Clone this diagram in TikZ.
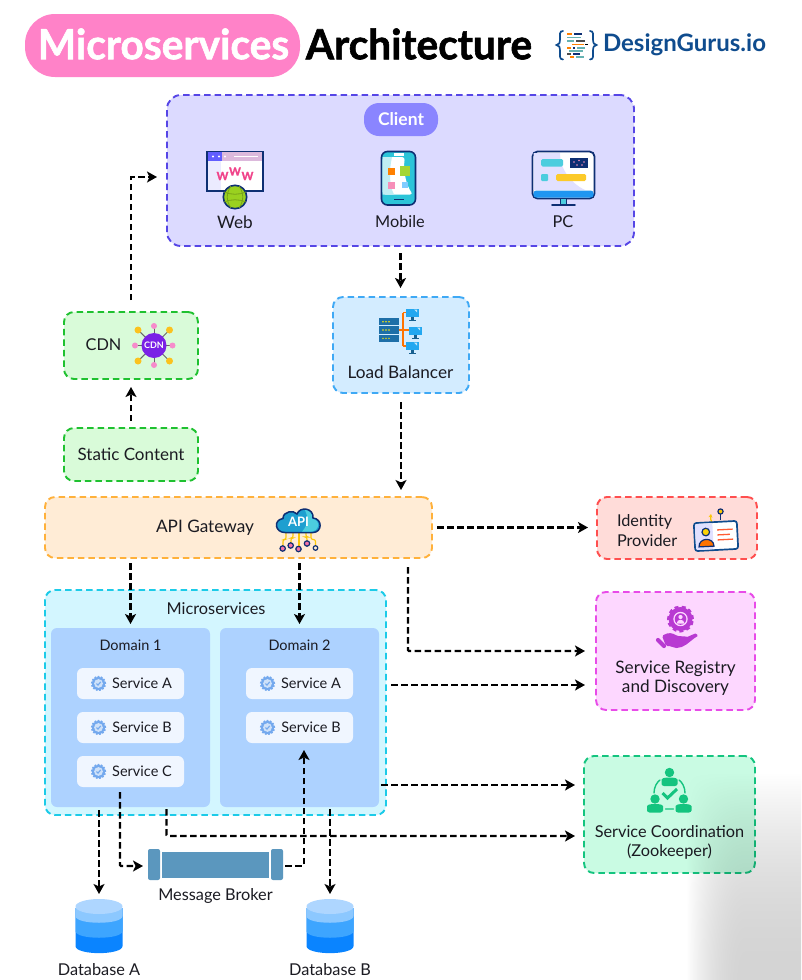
\documentclass[tikz,border=0pt]{standalone}
\usepackage{fontspec}
\setmainfont{Lato}
\newfontfamily\titlef[FakeStretch=0.98,BoldFeatures={FakeBold=1.4}]{Lato}
\usetikzlibrary{arrows.meta,calc,shapes.geometric,shadings}
\pgfdeclarefunctionalshading{cornershade}{\pgfpoint{-25bp}{-25bp}}{\pgfpoint{25bp}{25bp}}{}{
 25 add 50 div 1 exch sub dup 2 exch sub mul
 exch 25 add 50 div 1.95 mul dup 1 gt {pop 1} if dup 2 exch sub mul
 mul 0.17 mul 1 exch sub dup dup
}
\definecolor{ink}{HTML}{1B1B22}
\definecolor{navy}{HTML}{0E2F73}
\definecolor{gearb}{HTML}{74A9EE}
\definecolor{brokerc}{HTML}{5B97BE}
\definecolor{pinkp}{HTML}{FF82C8}
\definecolor{logob}{HTML}{0F4C8E}
\definecolor{dba}{HTML}{AED6FF}
\definecolor{dbb}{HTML}{8CC8FF}
\definecolor{dbc}{HTML}{3DA5FF}
\definecolor{dbd}{HTML}{0A84FF}
\definecolor{zooc}{HTML}{14C47F}
\definecolor{regc}{HTML}{B83AD2}
\definecolor{clientb}{HTML}{5646E6}
\definecolor{clientf}{HTML}{DCDAFF}
\definecolor{clientp}{HTML}{8A85FF}
\definecolor{greenb}{HTML}{1FC130}
\definecolor{greenf}{HTML}{D9FBD9}
\definecolor{lbb}{HTML}{3FA9F5}
\definecolor{lbf}{HTML}{D3ECFF}
\definecolor{apib}{HTML}{FFB13B}
\definecolor{apif}{HTML}{FFECD6}
\definecolor{idb}{HTML}{FF4F4F}
\definecolor{idf}{HTML}{FFDCD9}
\definecolor{regb}{HTML}{E84BE8}
\definecolor{regf}{HTML}{FDD7FF}
\definecolor{zoob}{HTML}{14C47F}
\definecolor{zoof}{HTML}{C9FBE3}
\definecolor{micb}{HTML}{1CCBE8}
\definecolor{micf}{HTML}{D3F6FF}
\definecolor{domf}{HTML}{ADD2FF}
\definecolor{svcf}{HTML}{F0F6FF}
\definecolor{webg}{HTML}{9AD11F}
\definecolor{wpink}{HTML}{F0448A}
\definecolor{cyanp}{HTML}{2CC4D8}
\definecolor{cdnp}{HTML}{7A22E6}
\definecolor{monc}{HTML}{22A7F0}
\definecolor{srvc}{HTML}{1E6FA8}
\definecolor{standc}{HTML}{17608F}
\definecolor{cloudc}{HTML}{1E9FD0}
\tikzset{
 x=1pt,y=-1pt,
 panel/.style={draw,line width=1.9pt,dash pattern=on 6.5pt off 4pt,rounded corners=10pt,inner sep=0pt,outer sep=0pt,text=ink,font=\fontsize{17}{20}\selectfont,align=center},
 dom/.style={fill=domf,rounded corners=6pt,inner sep=0pt,outer sep=0pt},
 svc/.style={fill=svcf,rounded corners=6pt,inner sep=0pt,outer sep=0pt,minimum width=107pt,minimum height=31pt},
 lab/.style={text=ink,font=\fontsize{16.3}{19.5}\selectfont,inner sep=0pt,outer sep=0pt,align=center},
 labb/.style={lab,font=\fontsize{17.2}{19.5}\selectfont},
 sml/.style={text=ink,font=\fontsize{14.5}{18}\selectfont,inner sep=0pt,outer sep=0pt},
 flow/.style={draw=black,line width=2.2pt,dash pattern=on 6.5pt off 3.5pt,-{Stealth[length=10pt,width=11pt,inset=2.5pt]}},
 hold/.style={inner sep=0pt,outer sep=0pt},
 wtext/.style={text=wpink,font=\titlef\bfseries\fontsize{11.5}{12}\selectfont,inner sep=0pt}
}
\newcommand{\gearicon}[2]{%
 \begin{scope}[shift={(#1,#2)}]
 \draw[gearb,line width=1.8pt,dash pattern=on 1.7pt off 1.5pt] (0,0) circle[radius=6.7pt];
 \fill[gearb] (0,0) circle[radius=6.6pt];
 \fill[white!65!gearb] (0,0) circle[radius=4.4pt];
 \draw[gearb,line width=1.1pt] (-2,0)--(-.5,1.6)--(2.2,-1.6);
 \end{scope}}
\newcommand{\dbicon}[1]{%
 \begin{scope}[shift={(#1,0)}]
 \fill[dbd] (-23.5,908) -- (-23.5,946) .. controls (-23.5,955.5) and (23.5,955.5) .. (23.5,946) -- (23.5,908) -- cycle;
 \fill[dbc] (-23.5,908) -- (-23.5,931) .. controls (-23.5,940) and (23.5,940) .. (23.5,931) -- (23.5,908) -- cycle;
 \fill[dbb] (-23.5,908) -- (-23.5,916) .. controls (-23.5,925) and (23.5,925) .. (23.5,916) -- (23.5,908) -- cycle;
 \fill[dba] (0,906.5) circle[x radius=23.5pt,y radius=7.5pt];
 \end{scope}}
\newcommand{\personicon}[3]{%
 \begin{scope}[shift={(#1,#2)}]
 \fill[zooc] (0,-6.5) circle[radius=4.7pt];
 \fill[zooc,rounded corners=2.5pt] (-#3,7) -- (-#3,3) .. controls (-#3,-.5) and (-5,-1.5) .. (0,-1.5) .. controls (5,-1.5) and (#3,-.5) .. (#3,3) -- (#3,7) -- cycle;
 \end{scope}}
\newcommand{\monicon}[2]{%
 \begin{scope}[shift={(#1,#2)}]
 \fill[monc] (0,0) rectangle (13,8);
 \fill[white!70!monc] (8,1)--(11,1)--(11,4)--cycle;
 \fill[standc] (5.3,8) rectangle (7.7,11);
 \fill[standc] (3,11) rectangle (10,12.3);
 \end{scope}}
\begin{document}
\begin{tikzpicture}
\useasboundingbox (0,0) rectangle (801,980);
\fill[white] (0,0) rectangle (801,980);

% ---------- title
\node[fill=pinkp,rounded corners=30pt,minimum width=275pt,minimum height=63pt,inner sep=0pt,outer sep=0pt] (pill) at (162.5,45.5) {};
\node[text=white,font=\titlef\bfseries\fontsize{41.5}{44}\selectfont,inner sep=0pt] (ttla) at (163.5,44) {Microservices};
\node[text=black,font=\titlef\bfseries\fontsize{41.5}{44}\selectfont,inner sep=0pt] (ttlb) at (419,44) {Architecture};
\node[text=logob,font=\bfseries\fontsize{24}{28}\selectfont,inner sep=0pt] (logo) at (684.5,45) {DesignGurus.io};
\draw[logob,line width=1.7pt,line cap=round] (563,31) .. controls (559,31) and (560,35) .. (560,39) .. controls (560,43) and (559,45) .. (556.5,45) .. controls (559,45) and (560,47) .. (560,51) .. controls (560,55) and (559,59.5) .. (563,59.5);
\draw[logob,line width=1.7pt,line cap=round] (590,31) .. controls (594,31) and (593,35) .. (593,39) .. controls (593,43) and (594,45) .. (596.5,45) .. controls (594,45) and (593,47) .. (593,51) .. controls (593,55) and (594,59.5) .. (590,59.5);
\foreach \xa/\xb/\yy/\cc in {567/572/34/orange,574/582/34/navy,567/581/37.5/teal!60,567/574/41/teal!60,576/585/41/black!70,572/584/44.5/orange,585/588/44.5/black,567/571/48/orange,573/575/48/navy,577/585/48/teal!60,569/583/51/teal!60,567/571/54/black!70,573/580/54/navy,570/574/57/orange,576/584/57/teal!60}
 \draw[\cc,line width=1.2pt] (\xa,\yy)--(\xb,\yy);

% ---------- panels
\node[panel,draw=clientb,fill=clientf,minimum width=467pt,minimum height=151pt,rounded corners=14pt] (client) at (400.5,170.5) {};
\node[fill=clientp,text=white,rounded corners=15pt,minimum width=74pt,minimum height=33pt,inner sep=0pt,font=\bfseries\fontsize{17.5}{20}\selectfont] (clientlab) at (401,119.5) {Client};
\node[panel,draw=greenb,fill=greenf,minimum width=134pt,minimum height=67pt] (cdn) at (131,345.5) {};
\node[panel,draw=greenb,fill=greenf,minimum width=134pt,minimum height=53pt] (static) at (131,454.5) {\raisebox{1pt}{Static Content}};
\node[panel,draw=lbb,fill=lbf,minimum width=136pt,minimum height=96pt] (lb) at (401,345) {};
\node[panel,draw=apib,fill=apif,minimum width=387pt,minimum height=61pt] (api) at (238.5,527.5) {};
\node[panel,draw=idb,fill=idf,minimum width=160pt,minimum height=62pt] (idp) at (677,528) {};
\node[panel,draw=regb,fill=regf,minimum width=159pt,minimum height=118pt] (reg) at (675.5,651) {};
\node[panel,draw=zoob,fill=zoof,minimum width=171pt,minimum height=117pt] (coord) at (669.5,814.5) {};
\node[panel,draw=micb,fill=micf,minimum width=341pt,minimum height=225pt] (micro) at (215.5,702.5) {};
\node[dom,minimum width=159pt,minimum height=179pt] (dom1) at (130.5,717.5) {};
\node[dom,minimum width=159pt,minimum height=179pt] (dom2) at (299.5,717.5) {};
\node[svc] (s1a) at (130.5,683.5) {};
\node[svc] (s1b) at (130.5,727.5) {};
\node[svc] (s1c) at (130.5,771.5) {};
\node[svc] (s2a) at (299.5,683.5) {};
\node[svc] (s2b) at (299.5,727.5) {};

% ---------- text labels
\node[labb] (lweb) at (235,222) {Web};
\node[lab] (lmob) at (400,222) {Mobile};
\node[lab] (lpc) at (563,222) {PC};
\node[lab] (lcdn) at (103.5,345) {CDN};
\node[labb] (llb) at (400.5,372.5) {Load Balancer};
\node[labb] (lapi) at (205,527.5) {API Gateway};
\node[lab,align=left,anchor=west] (lidp) at (617,530.5) {Identity\\Provider};
\node[labb] (lreg) at (675.5,678) {Service Registry\\and Discovery};
\node[lab] (lzoo) at (669.5,842.5) {Service Coordination\\(Zookeeper)};
\node[lab] (lmic) at (216,608.5) {Microservices};
\node[sml] (ld1) at (130.5,645) {Domain 1};
\node[sml] (ld2) at (299.5,645) {Domain 2};
\node[sml] (t1a) at (142,683.3) {Service A};
\node[sml] (t1b) at (142,727.3) {Service B};
\node[sml] (t1c) at (142,771.3) {Service C};
\node[sml] (t2a) at (311,683.3) {Service A};
\node[sml] (t2b) at (311,727.3) {Service B};
\gearicon{98.5}{683.5}
\gearicon{98.5}{727.5}
\gearicon{98.5}{771.5}
\gearicon{267.5}{683.5}
\gearicon{267.5}{727.5}

% ---------- web icon
\draw[navy,line width=1.5pt,fill=white] (207,151.5) rectangle (263,191);
\fill[clientf!70!blue!20!white] (207.8,161) rectangle (221,190.2);
\fill[white!50!violet!55!white] (207.8,152.3) rectangle (262.2,161);
\fill[clientp!70!blue] (207.8,152.3) rectangle (222,161);
\fill[white] (213,156.5) circle[radius=1.1pt] (219,156.5) circle[radius=1.1pt] (225,156.5) circle[radius=1.1pt];
\fill[white] (234,155.6) rectangle (258,157.4);
\node[wtext] (w1) at (222.5,176) {W};
\node[wtext] (w2) at (235,171.5) {W};
\node[wtext] (w3) at (247.5,176) {W};
\draw[navy,line width=1.6pt,fill=webg] (235,197) circle[radius=11.7pt];
\draw[webg!78!black,line width=.8pt] (231,186) .. controls (226,193) and (226,201) .. (231,208) (239,186) .. controls (244,193) and (244,201) .. (239,208) (224,192) .. controls (231,195) and (239,195) .. (246,192) (224,202) .. controls (231,199) and (239,199) .. (246,202);

% ---------- mobile icon
\draw[navy,line width=1.6pt,rounded corners=6pt,fill=cyanp] (381.5,151.5) rectangle (415.5,205);
\fill[white,rounded corners=3pt] (382.5,157) -- (405,157) .. controls (403,170) and (406,185) .. (413,194.5) -- (382.5,194.5) -- cycle;
\fill[cyanp!30!white] (382.5,157) -- (392,157) .. controls (389,170) and (389,185) .. (394,194.5) -- (382.5,194.5) -- cycle;
\fill[white] (394,153.2) rectangle (404,155.7);
\fill[navy] (394,198.6) rectangle (404,200.2);
\fill[orange] (388,168) rectangle (395,175);
\fill[webg!90!white] (400,166) rectangle (410,175.5);
\fill[wpink!60!white] (388,182) rectangle (395,189);
\fill[blue!40!cyan!50!white] (402,182) rectangle (408,188);

% ---------- pc icon
\draw[navy,line width=1.8pt,rounded corners=5pt,fill=white] (532.5,151.5) rectangle (594.5,198.5);
\fill[clientf!85!white] (533.5,153) -- (560,153) .. controls (560,170) and (572,184) .. (585,190) -- (533.5,190) -- cycle;
\fill[monc!90!blue,rounded corners=3pt] (533.4,190.5) rectangle (593.6,197.6);
\fill[cyanp!85!white,rounded corners=1.5pt] (541,159) rectangle (563,166.5);
\fill[navy] (570,158) rectangle (588,168);
\fill[wpink!60!white] (574,162) circle[radius=.8pt] (579,160.5) circle[radius=.8pt] (584,162) circle[radius=.8pt] (577,165) circle[radius=.8pt] (582,165) circle[radius=.8pt];
\fill[cyanp!85!white,rounded corners=1pt] (541,174) rectangle (548,181);
\fill[yellow!55!orange!85!white,rounded corners=1.5pt] (556,174) rectangle (586,181);
\fill[cyanp!85!white] (561,199) rectangle (566,204);
\draw[navy,line width=1.4pt] (560.5,199) -- (560.5,204) (566.5,199) -- (566.5,204);
\draw[navy,line width=1.8pt,line cap=round] (552,205) -- (575,205);

% ---------- CDN icon
\foreach \tx/\ty in {154/326,154/365,172.5/345.5,135/345.5,138/330,169.5/330,138/361,169.5/361}
 \draw[black!60,line width=1pt] (154,345.5) -- (\tx,\ty);
\fill[magenta!45!white] (154,326) circle[radius=3pt] (154,365) circle[radius=3pt] (172.5,345.5) circle[radius=3pt] (135,345.5) circle[radius=3pt];
\fill[yellow!50!orange!90!white] (138,330) circle[radius=3.5pt] (169.5,330) circle[radius=3.5pt] (138,361) circle[radius=3.5pt] (169.5,361) circle[radius=3.5pt];
\node[circle,fill=cdnp,text=white,font=\bfseries\fontsize{9}{9}\selectfont,minimum size=25pt,inner sep=0pt] (cdnic) at (154,345.5) {CDN};

% ---------- load balancer icon
\foreach \yy in {318,326.3,334.6}{
 \fill[srvc] (379,\yy) rectangle (399,\yy+7.4);
 \foreach \xx in {383,386,389}{\fill[yellow!90!orange] (\xx,\yy+3.7) circle[radius=.8pt];}
}
\draw[orange!90!red,line width=1.5pt] (399,330) -- (409,330) (403,312.5) -- (403,346) (403,312.5) -- (407,312.5) (403,346) -- (407,346);
\monicon{406}{308.5}
\monicon{409}{326.5}
\monicon{406}{341.5}

% ---------- API icon
\foreach \xa/\ya/\xb/\yb in {286/531/283/548,293/531/291/545,299/531/299/548,306/531/307/543,311/531/315.5/548}
 \draw[yellow!60!orange,line width=1.1pt,rounded corners=2pt] (\xa,\ya) -- (\xa,{(\ya+\yb)/2}) -- (\xb,{(\ya+\yb)/2}) -- (\xb,\yb);
\foreach \xx/\yy in {282.7/548.5,290.7/545.5,298.5/549,307/543.5}
 \draw[navy,line width=1.2pt,fill=wpink!75!white] (\xx,\yy) circle[radius=2.7pt];
\draw[navy,line width=1.2pt,fill=apif] (315.5,548) circle[radius=2.3pt];
\draw[navy,line width=1.5pt,fill=cloudc] (285,532.5) .. controls (275,532.5) and (273,520) .. (283,518.5) .. controls (283,511) and (294,510) .. (297,514) .. controls (300,506) and (314,508) .. (313,518) .. controls (323,519) and (322,532.5) .. (313,532.5) -- cycle;
\fill[cyanp!85!white] (310,531.7) .. controls (320,531.7) and (321,520) .. (312,518.7) .. controls (313,513) and (308,510) .. (305,510) .. controls (308,516) and (309,524) .. (302,531.7) -- cycle;
\node[text=white,font=\bfseries\fontsize{13}{13}\selectfont,inner sep=0pt] (apitxt) at (298.5,522) {API};

% ---------- identity icon
\draw[yellow!60!orange,line width=1.3pt,-{Stealth[length=3.5pt,width=4pt]}] (716,526) .. controls (712,524) and (710,520) .. (711,514);
\draw[navy,line width=1.2pt,fill=yellow!60!orange] (720.5,511.5) circle[radius=2.6pt];
\draw[navy,line width=.9pt] (720.5,514.2) -- (720.5,520);
\begin{scope}[rotate around={3:(716,536)}]
\draw[logob,line width=1.7pt,rounded corners=2.5pt,fill=white] (694.5,522) rectangle (737.5,550);
\fill[blue!12!white,rounded corners=2pt] (695.5,523) rectangle (713,549);
\draw[navy,line width=1.2pt,fill=yellow!70!orange] (706,531.5) circle[radius=3.8pt];
\draw[navy,line width=1.2pt,fill=orange!90!red] (698.5,546) .. controls (698.5,536.5) and (713.5,536.5) .. (713.5,546) -- cycle;
\draw[red!60!orange!80!white,line width=1.3pt] (717.5,530) -- (733,530) (717.5,535) -- (730,535) (717.5,540) -- (733,540);
\end{scope}

% ---------- registry icon
\draw[regc,line width=3pt,dash pattern=on 3.8pt off 3.1pt] (680.5,619) circle[radius=12pt];
\fill[regc] (680.5,619) circle[radius=12pt];
\fill[regf] (680.5,619) circle[radius=7.2pt];
\fill[regc] (680.5,619) circle[radius=5.8pt];
\fill[regf] (680.5,617) circle[radius=2.1pt];
\fill[regf] (676.5,623.5) .. controls (677,618.5) and (684,618.5) .. (684.5,623.5) -- cycle;
\draw[regc,line width=4.2pt,line cap=round] (658,640) -- (664,646);
\fill[regc,rounded corners=1.5pt] (662,636) .. controls (668,632) and (673,633) .. (677,636) -- (686,636.5) .. controls (688,637) and (687,640) .. (685,640) -- (678,641) -- (694,634) .. controls (697,633) and (698,636) .. (696,637) .. controls (689,642) and (684,648) .. (675,648) .. controls (671,646) and (668,646) .. (666,646) -- cycle;

% ---------- coordination icon
\personicon{669.5}{779}{8}
\personicon{655}{805.5}{8}
\personicon{683.5}{805.5}{8}
\draw[zooc,line width=1.4pt,line cap=round] (654,793) .. controls (654,787) and (657,782) .. (660,780) (685,793) .. controls (685,787) and (682,782) .. (679,780) (665.5,809) -- (673.5,809);
\draw[zooc,line width=3pt] (662.5,793) -- (667.5,798) -- (677,789);

% ---------- broker and databases
\node[hold,minimum width=135pt,minimum height=31pt] (broker) at (215.5,864.5) {};
\fill[brokerc,rounded corners=2pt] (148,849) rectangle (160,880);
\fill[brokerc,rounded corners=2pt] (271,849) rectangle (283,880);
\fill[brokerc] (162,851.5) rectangle (269,878);
\node[lab] (lbrk) at (215.5,895.5) {Message Broker};
\node[hold,minimum width=47pt,minimum height=54pt] (dba) at (99,927) {};
\node[hold,minimum width=47pt,minimum height=54pt] (dbb) at (330,927) {};
\dbicon{99}
\dbicon{330}
\node[lab] (ldba) at (99,969.5) {Database A};
\node[lab] (ldbb) at (330,969.5) {Database B};

% ---------- connectors
\draw[flow,shorten <=12pt,shorten >=10pt] (cdn.north) |- ([yshift=-6.5pt]client.west);
\draw[flow,shorten <=7pt,shorten >=9pt] (client.south) -- (lb.north -| client.south);
\draw[flow,shorten <=7pt,shorten >=8pt] (static.north) -- (cdn.south);
\draw[flow,shorten <=9pt,shorten >=7pt] (lb.south) -- (lb.south |- api.north);
\draw[flow,shorten <=5pt,shorten >=9pt] (api.east) -- (api.east -| idp.west);
\draw[flow,shorten <=9pt,shorten >=11pt,rounded corners=1pt] ([xshift=169.5pt]api.south) |- (reg.west);
\draw[flow,shorten <=5pt,shorten >=11pt] ([yshift=17.5pt]micro.east) -- ([yshift=17.5pt]micro.east -| reg.west);
\draw[flow,shorten <=2pt,shorten >=9pt] ([yshift=-67.5pt]dom2.east) -- ([yshift=-67.5pt]dom2.east -| coord.west);
\draw[flow,shorten <=2pt,shorten >=9pt,rounded corners=1pt] ([xshift=36pt]dom1.south) |- ([yshift=-21.5pt]coord.west);
\draw[flow,shorten <=5pt,shorten >=4pt] (dom1.north |- api.south) -- (dom1.north);
\draw[flow,shorten <=5pt,shorten >=4pt] (dom2.north |- api.south) -- (dom2.north);
\draw[flow,shorten <=5pt,shorten >=5pt,rounded corners=1pt] ([xshift=-10.5pt]s1c.south) |- ([yshift=-1.5pt]broker.west);
\draw[flow,shorten <=2pt,shorten >=7pt,rounded corners=1pt] ([yshift=-1.5pt]broker.east) -| ([xshift=4.5pt]s2b.south);
\draw[flow,shorten <=3pt,shorten >=6pt] (dom1.south -| dba.north) -- (dba.north);
\draw[flow,shorten <=2pt,shorten >=6pt] (dom2.south -| dbb.north) -- (dbb.north);

% ---------- corner shade
\shade[blend mode=multiply,shading=cornershade] (686,772) rectangle (801,980);
\end{tikzpicture}
\end{document}
